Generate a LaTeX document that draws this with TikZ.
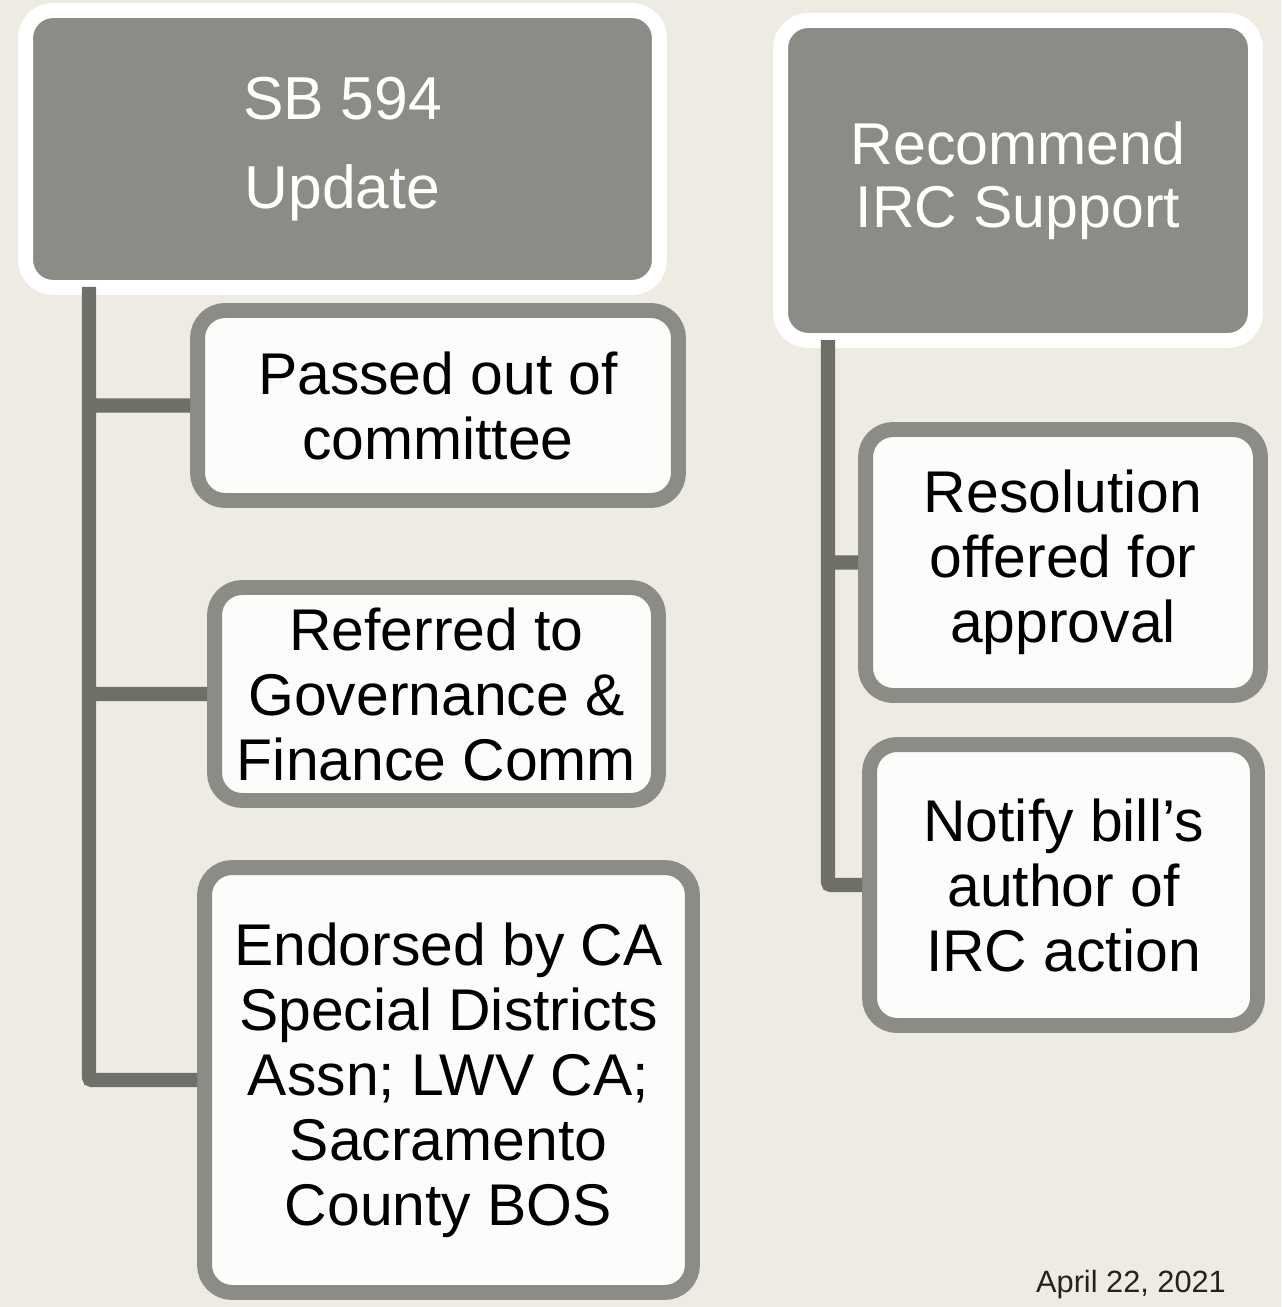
\documentclass[tikz,border=0pt]{standalone}
\usepackage{fontspec}
\setmainfont{Liberation Sans}
\usepackage{tikz}

\definecolor{slidebg}{HTML}{EEEBE3}
\definecolor{headgray}{HTML}{8B8C85}
\definecolor{linegray}{HTML}{6E6F69}
\definecolor{itemfill}{HTML}{FCFCFA}
\definecolor{datecol}{HTML}{23231B}

\begin{document}
\begin{tikzpicture}[x=0.02cm, y=-0.02cm,
	head node/.style={rectangle,rounded corners=0.55cm,draw=white,fill=headgray,
		line width=8.5pt,text=white,align=center},
	item node/.style={rectangle,rounded corners=0.55cm,draw=headgray,fill=itemfill,
		line width=8.5pt,text=black,align=center,
		font=\fontsize{33.5}{37}\selectfont},
	trunk/.style={draw=linegray,line width=8pt,rounded corners=1.5pt}]
	
	\fill[slidebg] (0,0) rectangle (1281,1307);
	\useasboundingbox (0,0) rectangle (1281,1307);
	
	\node[head node,minimum width=12.68cm,minimum height=5.54cm,
		font=\fontsize{34.5}{51}\selectfont] (sb) at (342.5,149) {SB 594\\Update};
	\node[head node,minimum width=9.5cm,minimum height=6.4cm,
		font=\fontsize{33.6}{36}\selectfont] (irc) at (1018,180.5) {Recommend\\IRC Support};
	
	\coordinate (lroot) at (89,287);
	\coordinate (rroot) at (828,340);
	
	\node (p1) at (438,405.5) [item node,minimum width=9.62cm,minimum height=3.8cm] {Passed out of\\committee};
	\node (p2) at (436.5,694) [item node,minimum width=8.88cm,minimum height=4.26cm] {Referred to\\Governance \&\\Finance Comm};
	\node (p3) at (448.5,1080) [item node,minimum width=9.76cm,minimum height=8.5cm] {Endorsed by CA\\Special Districts\\Assn; LWV CA;\\Sacramento\\County BOS};
	\node (r1) at (1063,562.5) [item node,minimum width=7.9cm,minimum height=5.32cm] {Resolution\\offered for\\approval};
	\node (r2) at (1063.5,885) [item node,minimum width=7.76cm,minimum height=5.62cm] {Notify bill’s\\author of\\IRC action};
	
	\path[trunk]
	(lroot) |- (p3.west)
	(lroot |- p1.west) -- (p1.west)
	(lroot |- p2.west) -- (p2.west)
	(rroot) |- (r2.west)
	(rroot |- r1.west) -- (r1.west);
	
	\node[anchor=base,text=datecol,font=\fontsize{17.5}{20}\selectfont] (date) at (1131,1292) {April 22, 2021};
\end{tikzpicture}
\end{document}
